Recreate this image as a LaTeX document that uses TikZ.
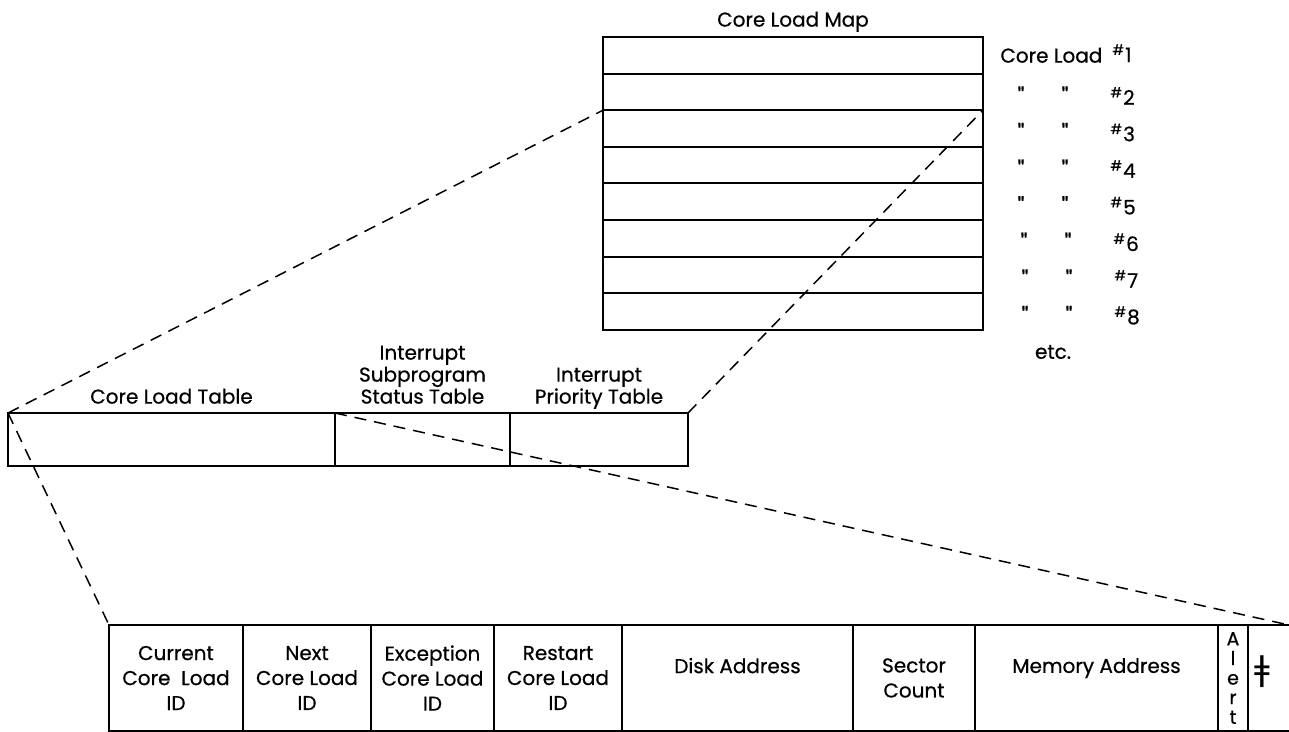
\documentclass[tikz,border=0pt]{standalone}
\usepackage{fontspec}
\setmainfont{Poppins}[FakeBold=0.6]
\newfontfamily\symfont{DejaVu Sans}
\usetikzlibrary{positioning}

\tikzset{
  cell/.style={draw, line width=1pt, inner sep=0pt, outer sep=0pt, anchor=north west, align=center,
    font=\fontsize{10}{12.5}\selectfont},
  lbl/.style={inner sep=0pt, align=center, font=\fontsize{10}{11}\selectfont},
  head/.style={lbl, anchor=south, text depth=0pt},
  zoomline/.style={dash pattern=on 6pt off 4pt, line width=0.75pt}
}

\begin{document}
\begin{tikzpicture}[x=0.5pt, y=-0.5pt]

\useasboundingbox (0,0) rectangle (1289,732);

% core load map
\foreach \i in {1,...,8}
  \node[cell, minimum width=190pt, minimum height=18.3pt] (row\i) at (603, {37+(\i-1)*36.6}) {};
\node[head, above=5pt of row1.north] (maptitle) {Core Load Map};

\node[lbl, anchor=west] (cl1) at ([xshift=8.5pt]row1.east) {Core Load};
\node[lbl, anchor=west] (num1) at ([xshift=64.5pt,yshift=1pt]row1.east) {\textsuperscript{\#}1};
\foreach \i/\dx in {2/0,3/0,4/0,5/0,6/1.5,7/2,8/2} {
  \node[lbl, font=\fontsize{12}{12}\selectfont] (dA\i) at ([xshift={19pt+\dx pt},yshift=-2pt]row\i.east) {\textquotedbl};
  \node[lbl, font=\fontsize{12}{12}\selectfont] (dB\i) at ([xshift={41pt+\dx pt},yshift=-2pt]row\i.east) {\textquotedbl};
  \node[lbl, anchor=west] (num\i) at ([xshift={63.5pt+\dx pt},yshift=-2pt]row\i.east) {\textsuperscript{\#}\i};
}
\node[lbl] (etc) at (1053,352) {etc.};

% middle tables
\node[cell, minimum width=163.5pt, minimum height=26.5pt] (clt) at (8,413) {};
\node[cell, minimum width=87.5pt, minimum height=26.5pt] (ist) at (clt.north east) {};
\node[cell, minimum width=89pt, minimum height=26.5pt] (ipt) at (ist.north east) {};
\node[head, above=4.5pt of clt.north] (clthead) {Core Load Table};
\node[head, above=4.5pt of ist.north] (isthead) {Interrupt\\Subprogram\\Status Table};
\node[head, above=4.5pt of ipt.north] (ipthead) {Interrupt\\Priority Table};

% core load table entry
\node[cell, minimum width=67pt, minimum height=53pt] (cur) at (109,625) {Current\\Core~~Load\\ID};
\node[cell, minimum width=64pt, minimum height=53pt] (nxt) at (cur.north east) {Next\\Core Load\\ID};
\node[cell, minimum width=61.5pt, minimum height=53pt] (exc) at (nxt.north east) {Exception\\Core Load\\ID};
\node[cell, minimum width=64pt, minimum height=53pt] (rst) at (exc.north east) {Restart\\Core Load\\ID};
\node[cell, minimum width=115.5pt, minimum height=53pt] (dsk) at (rst.north east) {\raisebox{3pt}{Disk Address}\\[-3pt]};
\node[cell, minimum width=61pt, minimum height=53pt] (sec) at (dsk.north east) {Sector\\Count};
\node[cell, minimum width=121.5pt, minimum height=53pt] (mem) at (sec.north east) {\raisebox{3pt}{Memory Address}\\[-3pt]};
\node[cell, minimum width=15pt, minimum height=53pt, font=\fontsize{9.5}{9.8}\selectfont] (alrt) at (mem.north east) {A\\l\\e\\r\\t};
\node[cell, minimum width=26pt, minimum height=53pt] (last) at (alrt.north east) {};
\node[lbl, font=\symfont\fontsize{17}{17}\selectfont] (mark) at (1262,672) {ǂ};

\coordinate (edge) at (1289,625);

% zoom lines
\draw[zoomline] (clt.north west) -- (row3.north west);
\draw[zoomline] (ipt.north east) -- (row3.north east);
\draw[zoomline] (clt.north west) -- (cur.north west);
\draw[zoomline] (clt.north east) -- (edge);

\end{tikzpicture}
\end{document}
